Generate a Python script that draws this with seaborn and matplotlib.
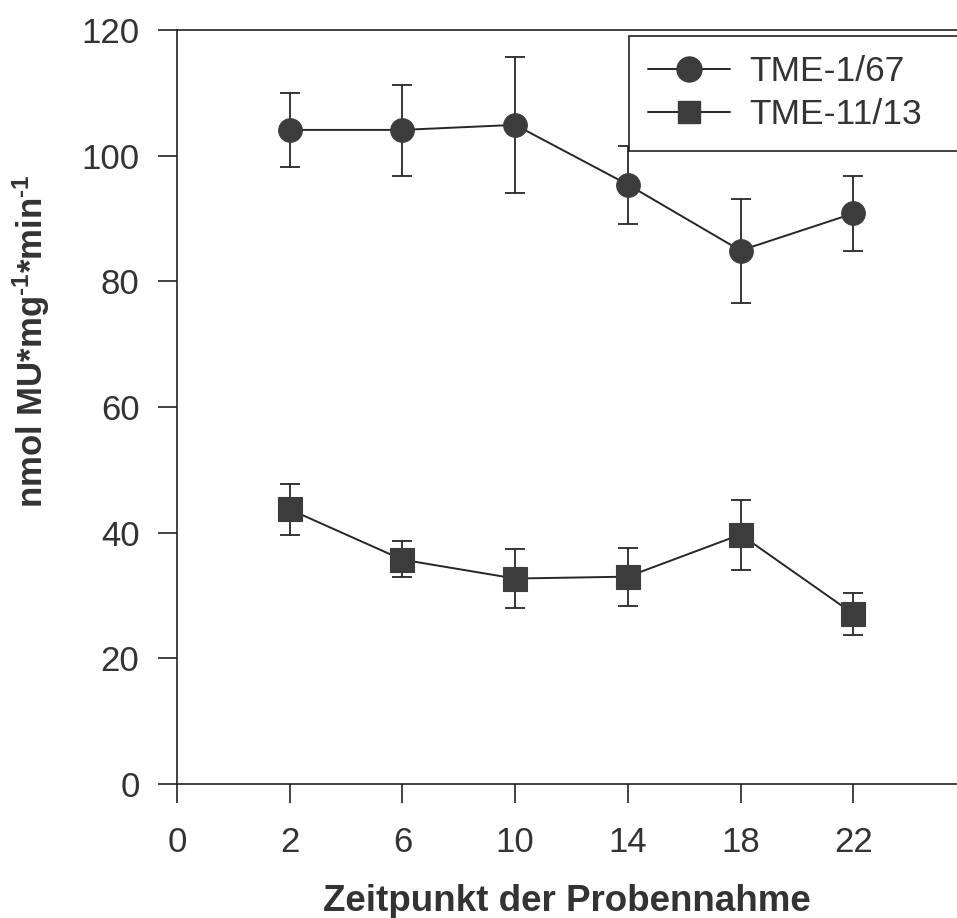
import matplotlib
matplotlib.use("Agg")
import matplotlib.pyplot as plt
import seaborn as sns
import pandas as pd
import numpy as np
from matplotlib.lines import Line2D

# ---- data ----
tick_labels = ["0", "2", "6", "10", "14", "18", "22"]
timepoints = ["2", "6", "10", "14", "18", "22"]
series_names = ["TME-1/67", "TME-11/13"]

tme1_mean = [104.1, 104.1, 104.9, 95.4, 84.9, 90.8]
tme1_upper = [110.0, 111.2, 115.7, 101.6, 93.1, 96.7]
tme1_lower = [98.2, 96.8, 94.0, 89.1, 76.6, 84.8]

tme11_mean = [43.7, 35.7, 32.7, 33.0, 39.7, 27.1]
tme11_upper = [47.7, 38.6, 37.4, 37.6, 45.2, 30.4]
tme11_lower = [39.6, 32.9, 28.0, 28.3, 34.1, 23.7]

y_ticks = [0, 20, 40, 60, 80, 100, 120]

# ---- styling ----
sns.set_style("ticks")
plt.rcParams["font.family"] = ["Liberation Sans", "DejaVu Sans"]
plt.rcParams["mathtext.fontset"] = "custom"
plt.rcParams["mathtext.bf"] = "Liberation Sans:bold"
plt.rcParams["mathtext.rm"] = "Liberation Sans:bold"
plt.rcParams["mathtext.default"] = "bf"

FS = 25
W, H = 957, 918
fig = plt.figure(figsize=(W / 100, H / 100), dpi=100)
left_px, right_px, top_px, bottom_px = 177, 957, 30, 784
ax = fig.add_axes([left_px / W, 1 - bottom_px / H,
                   (right_px - left_px) / W, (bottom_px - top_px) / H])

pos = list(range(1, len(timepoints) + 1))
df = pd.DataFrame({
    "pos": pos * 2,
    "value": tme1_mean + tme11_mean,
    "series": [series_names[0]] * len(pos) + [series_names[1]] * len(pos),
})

line_col = "#262626"
mark_col = "#3c3c3c"

# error bars
for mean, up, lo in [(tme1_mean, tme1_upper, tme1_lower),
                     (tme11_mean, tme11_upper, tme11_lower)]:
    m = np.array(mean)
    yerr = np.vstack([m - np.array(lo), np.array(up) - m])
    ax.errorbar(pos, m, yerr=yerr, fmt="none", ecolor=line_col,
                elinewidth=1.3, capsize=7.5, capthick=1.3, zorder=2)

sns.lineplot(data=df, x="pos", y="value", style="series",
             markers={series_names[0]: "o", series_names[1]: "s"},
             dashes=False, color=line_col, linewidth=1.4,
             markersize=17, markerfacecolor=mark_col,
             markeredgecolor=mark_col, markeredgewidth=0.8,
             legend=False, ax=ax, zorder=3)

ax.set_xlim(0, (right_px - left_px) / 112.7)
ax.set_ylim(0, 120)
ax.set_xticks(range(len(tick_labels)))
ax.set_xticklabels(tick_labels)
ax.set_yticks(y_ticks)

for s in ["left", "bottom", "top"]:
    ax.spines[s].set_linewidth(1.2)
    ax.spines[s].set_color("#222222")
ax.spines["right"].set_visible(False)

ax.tick_params(axis="both", direction="out", length=14, width=1.2,
               colors="#222222", labelsize=FS, labelcolor="#333333")
ax.tick_params(axis="x", pad=16)
ax.tick_params(axis="y", pad=13)

ax.set_xlabel("Zeitpunkt der Probennahme", fontsize=26.5, fontweight="bold",
              color="#333333", va="top")
ax.xaxis.set_label_coords(0.5, -0.132)
ax.set_ylabel(r"nmol MU*mg$^{\text{-1}}$*min$^{\text{-1}}$", fontsize=FS,
              fontweight="bold", color="#333333")
ax.yaxis.set_label_coords(-0.16, 0.588)

# legend
handles = [
    Line2D([], [], color=line_col, lw=1.4, marker="o", markersize=18,
           markerfacecolor=mark_col, markeredgecolor=mark_col),
    Line2D([], [], color=line_col, lw=1.4, marker="s", markersize=16.5,
           markerfacecolor=mark_col, markeredgecolor=mark_col),
]
x0 = (629 - left_px) / (right_px - left_px)
y1 = (bottom_px - 36) / (bottom_px - top_px)
y0 = (bottom_px - 152) / (bottom_px - top_px)
leg = ax.legend(handles, series_names, loc="upper left",
                bbox_to_anchor=(x0, y0, 1.2 - x0, y1 - y0), mode="expand",
                borderaxespad=0, fontsize=25.5, frameon=True, fancybox=False,
                handlelength=2.3, handletextpad=0.55, borderpad=0.55,
                labelspacing=0.28)
for t in leg.get_texts():
    t.set_color("#333333")
fr = leg.get_frame()
fr.set_edgecolor("#222222")
fr.set_linewidth(1.2)
fr.set_alpha(1)

fig.savefig("out.png", dpi=100)
